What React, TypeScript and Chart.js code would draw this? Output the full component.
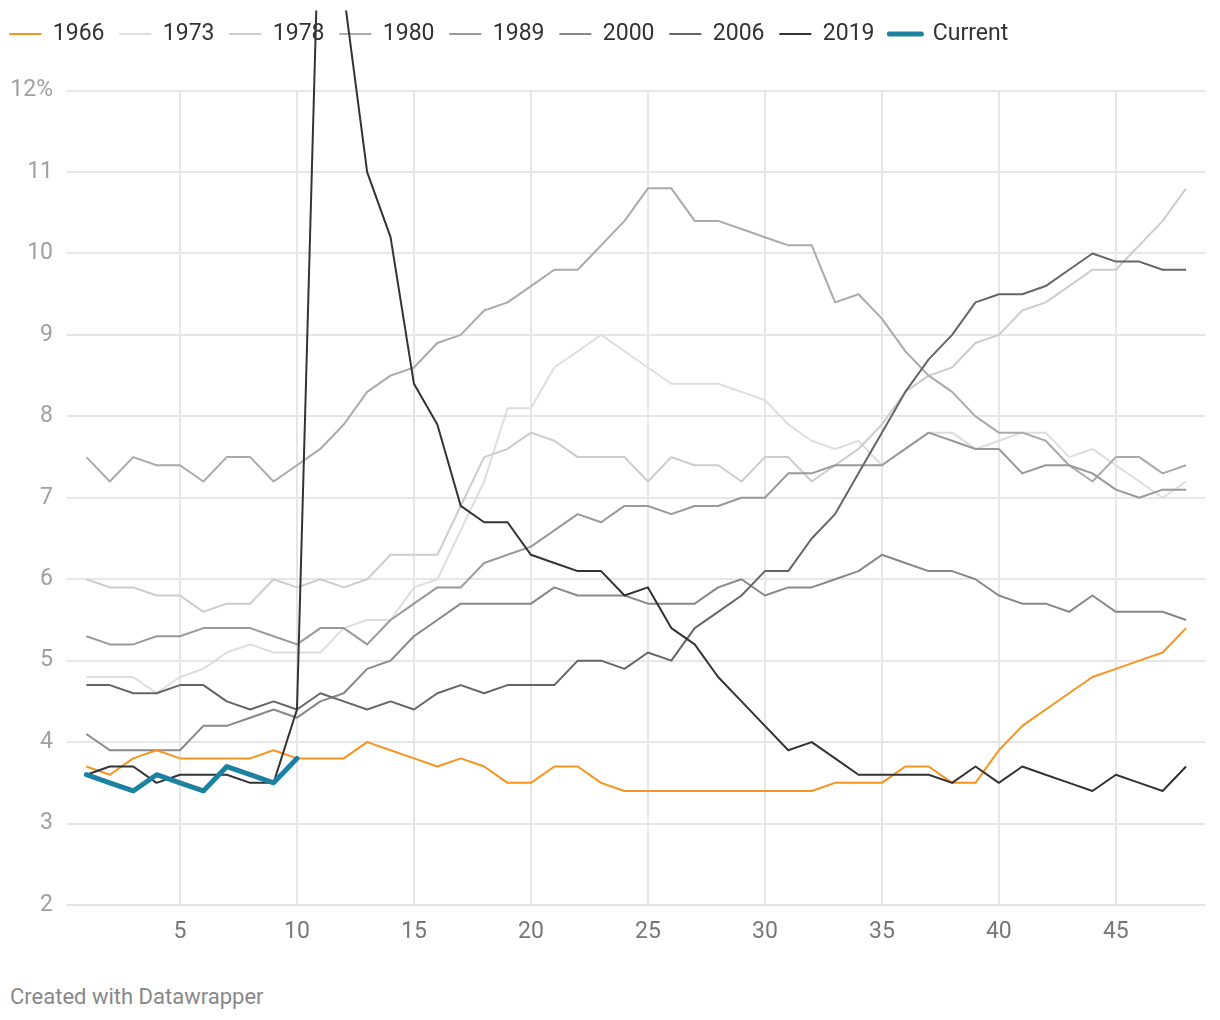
import React, { useEffect, useRef } from 'react';
import { Chart, registerables } from 'chart.js';

Chart.register(...registerables);

const months = [1, 2, 3, 4, 5, 6, 7, 8, 9, 10, 11, 12, 13, 14, 15, 16, 17, 18, 19, 20, 21, 22, 23, 24, 25, 26, 27, 28, 29, 30, 31, 32, 33, 34, 35, 36, 37, 38, 39, 40, 41, 42, 43, 44, 45, 46, 47, 48];

const y1966 = [3.7, 3.6, 3.8, 3.9, 3.8, 3.8, 3.8, 3.8, 3.9, 3.8, 3.8, 3.8, 4.0, 3.9, 3.8, 3.7, 3.8, 3.7, 3.5, 3.5, 3.7, 3.7, 3.5, 3.4, 3.4, 3.4, 3.4, 3.4, 3.4, 3.4, 3.4, 3.4, 3.5, 3.5, 3.5, 3.7, 3.7, 3.5, 3.5, 3.9, 4.2, 4.4, 4.6, 4.8, 4.9, 5.0, 5.1, 5.4];
const y1973 = [4.8, 4.8, 4.8, 4.6, 4.8, 4.9, 5.1, 5.2, 5.1, 5.1, 5.1, 5.4, 5.5, 5.5, 5.9, 6.0, 6.6, 7.2, 8.1, 8.1, 8.6, 8.8, 9.0, 8.8, 8.6, 8.4, 8.4, 8.4, 8.3, 8.2, 7.9, 7.7, 7.6, 7.7, 7.4, 7.6, 7.8, 7.8, 7.6, 7.7, 7.8, 7.8, 7.5, 7.6, 7.4, 7.2, 7.0, 7.2];
const y1978 = [6.0, 5.9, 5.9, 5.8, 5.8, 5.6, 5.7, 5.7, 6.0, 5.9, 6.0, 5.9, 6.0, 6.3, 6.3, 6.3, 6.9, 7.5, 7.6, 7.8, 7.7, 7.5, 7.5, 7.5, 7.2, 7.5, 7.4, 7.4, 7.2, 7.5, 7.5, 7.2, 7.4, 7.6, 7.9, 8.3, 8.5, 8.6, 8.9, 9.0, 9.3, 9.4, 9.6, 9.8, 9.8, 10.1, 10.4, 10.8];
const y1980 = [7.5, 7.2, 7.5, 7.4, 7.4, 7.2, 7.5, 7.5, 7.2, 7.4, 7.6, 7.9, 8.3, 8.5, 8.6, 8.9, 9.0, 9.3, 9.4, 9.6, 9.8, 9.8, 10.1, 10.4, 10.8, 10.8, 10.4, 10.4, 10.3, 10.2, 10.1, 10.1, 9.4, 9.5, 9.2, 8.8, 8.5, 8.3, 8.0, 7.8, 7.8, 7.7, 7.4, 7.2, 7.5, 7.5, 7.3, 7.4];
const y1989 = [5.3, 5.2, 5.2, 5.3, 5.3, 5.4, 5.4, 5.4, 5.3, 5.2, 5.4, 5.4, 5.2, 5.5, 5.7, 5.9, 5.9, 6.2, 6.3, 6.4, 6.6, 6.8, 6.7, 6.9, 6.9, 6.8, 6.9, 6.9, 7.0, 7.0, 7.3, 7.3, 7.4, 7.4, 7.4, 7.6, 7.8, 7.7, 7.6, 7.6, 7.3, 7.4, 7.4, 7.3, 7.1, 7.0, 7.1, 7.1];
const y2000 = [4.1, 3.9, 3.9, 3.9, 3.9, 4.2, 4.2, 4.3, 4.4, 4.3, 4.5, 4.6, 4.9, 5.0, 5.3, 5.5, 5.7, 5.7, 5.7, 5.7, 5.9, 5.8, 5.8, 5.8, 5.7, 5.7, 5.7, 5.9, 6.0, 5.8, 5.9, 5.9, 6.0, 6.1, 6.3, 6.2, 6.1, 6.1, 6.0, 5.8, 5.7, 5.7, 5.6, 5.8, 5.6, 5.6, 5.6, 5.5];
const y2006 = [4.7, 4.7, 4.6, 4.6, 4.7, 4.7, 4.5, 4.4, 4.5, 4.4, 4.6, 4.5, 4.4, 4.5, 4.4, 4.6, 4.7, 4.6, 4.7, 4.7, 4.7, 5.0, 5.0, 4.9, 5.1, 5.0, 5.4, 5.6, 5.8, 6.1, 6.1, 6.5, 6.8, 7.3, 7.8, 8.3, 8.7, 9.0, 9.4, 9.5, 9.5, 9.6, 9.8, 10.0, 9.9, 9.9, 9.8, 9.8];
const y2019 = [3.6, 3.7, 3.7, 3.5, 3.6, 3.6, 3.6, 3.5, 3.5, 4.4, 14.8, 13.2, 11.0, 10.2, 8.4, 7.9, 6.9, 6.7, 6.7, 6.3, 6.2, 6.1, 6.1, 5.8, 5.9, 5.4, 5.2, 4.8, 4.5, 4.2, 3.9, 4.0, 3.8, 3.6, 3.6, 3.6, 3.6, 3.5, 3.7, 3.5, 3.7, 3.6, 3.5, 3.4, 3.6, 3.5, 3.4, 3.7];
const yCurrent = [3.6, 3.5, 3.4, 3.6, 3.5, 3.4, 3.7, 3.6, 3.5, 3.8];

const seriesNames = ['1966', '1973', '1978', '1980', '1989', '2000', '2006', '2019', 'Current'];
const seriesColors = ['#f7931e', '#dddddd', '#cccccc', '#aaaaaa', '#999999', '#888888', '#666666', '#333333', '#1d81a2'];
const seriesWidths = [2, 2, 2, 2, 2, 2, 2, 2, 5];
const drawOrder = [2, 9, 8, 7, 6, 5, 4, 1, 0];

const xTicks = [5, 10, 15, 20, 25, 30, 35, 40, 45];
const yTicks = [2, 3, 4, 5, 6, 7, 8, 9, 10, 11, 12];

const FONT = 'Roboto';

export default function App() {
  const ref = useRef<HTMLCanvasElement>(null);

  useEffect(() => {
    document.body.style.margin = '0';
    const canvas = ref.current;
    if (!canvas) return;
    const series = [y1966, y1973, y1978, y1980, y1989, y2000, y2006, y2019, yCurrent];
    const datasets = series.map((vals, k) => ({
      label: seriesNames[k],
      data: vals.map((v, i) => ({ x: months[i], y: v })),
      borderColor: seriesColors[k],
      backgroundColor: seriesColors[k],
      borderWidth: seriesWidths[k],
      pointRadius: 0,
      pointHoverRadius: 0,
      tension: 0,
      borderJoinStyle: 'round' as const,
      borderCapStyle: (k === 8 ? 'round' : 'butt') as any,
      order: drawOrder[k],
      clip: k === 7 ? { left: 10, top: 80, right: 10, bottom: 10 } : 8,
    }));

    const legendSpacing = {
      id: 'legendSpacing',
      beforeLayout(chart: any) {
        const lg = chart.legend;
        if (lg && !lg._patchedFit) {
          const orig = lg.fit.bind(lg);
          lg.fit = function () {
            orig();
            this.height += 35;
          };
          lg._patchedFit = true;
        }
      },
      afterLayout(chart: any) {
        const lg = chart.legend;
        if (lg) {
          lg.left -= 5.5;
          lg.right -= 5.5;
        }
      },
    };

    const chart = new Chart(canvas, {
      type: 'line',
      data: { datasets: datasets as any },
      plugins: [legendSpacing],
      options: {
        animation: false,
        responsive: false,
        devicePixelRatio: 1,
        layout: { padding: { top: 7.8, right: 15, left: 0, bottom: 0 } },
        plugins: {
          tooltip: { enabled: false },
          legend: {
            display: true,
            position: 'top',
            align: 'start',
            labels: {
              usePointStyle: true,
              pointStyleWidth: 32,
              padding: 14.8,
              color: '#333333',
              font: { family: FONT, size: 23 },
              generateLabels: (ch: any) =>
                ch.data.datasets.map((ds: any, i: number) => ({
                  text: ds.label,
                  fillStyle: ds.borderColor,
                  strokeStyle: ds.borderColor,
                  lineWidth: seriesWidths[i],
                  lineCap: i === 8 ? 'round' : 'butt',
                  pointStyle: 'line',
                  hidden: false,
                  datasetIndex: i,
                  fontColor: '#333333',
                })),
            },
          },
        },
        scales: {
          x: {
            type: 'linear',
            min: 0.171,
            max: 48.81,
            border: { display: false },
            grid: { color: '#e6e6e6', lineWidth: 2, drawTicks: false },
            afterBuildTicks: (s: any) => {
              s.ticks = xTicks.map((v) => ({ value: v }));
            },
            afterFit: (s: any) => {
              s.height = 55;
            },
            ticks: {
              color: '#777777',
              padding: 13,
              maxRotation: 0,
              font: { family: FONT, size: 23 },
              callback: (v: any) => String(v),
            },
          },
          y: {
            type: 'linear',
            min: 2,
            max: 12,
            border: { display: false },
            grid: { color: '#e6e6e6', lineWidth: 2, drawTicks: false },
            afterBuildTicks: (s: any) => {
              s.ticks = yTicks.map((v) => ({ value: v }));
            },
            afterFit: (s: any) => {
              s.width = 67;
            },
            ticks: {
              color: '#a0a0a0',
              padding: 14,
              font: { family: FONT, size: 23 },
              callback: (v: any) => (v === 12 ? '12%' : String(v)),
            },
          },
        },
      },
    });
    return () => chart.destroy();
  }, []);

  return (
    <div style={{ position: 'relative', width: 1220, height: 1020, background: '#ffffff' }}>
      <canvas ref={ref} width={1220} height={960} style={{ display: 'block' }} />
      <div
        style={{
          position: 'absolute',
          left: 10,
          top: 984,
          fontFamily: FONT,
          fontSize: 22,
          lineHeight: '26px',
          color: '#888888',
        }}
      >
        Created with Datawrapper
      </div>
    </div>
  );
}
